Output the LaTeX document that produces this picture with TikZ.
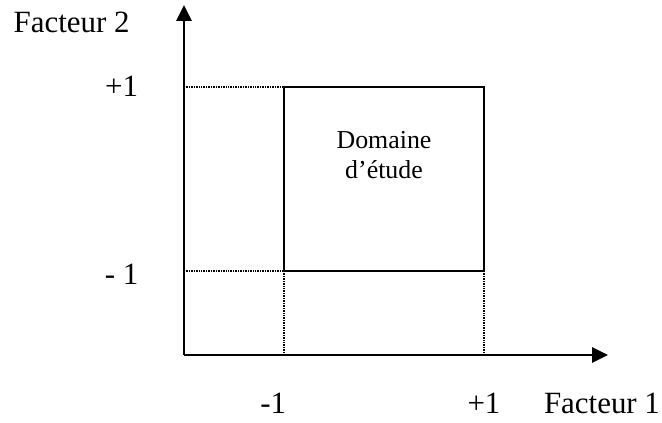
\documentclass[tikz,border=0pt]{standalone}
\usepackage{fontspec}
\setmainfont{Liberation Serif}
\usetikzlibrary{arrows.meta}

\begin{document}
\begin{tikzpicture}[font=\fontsize{22}{26}\selectfont,
  axis/.style={line width=1.9pt,-{Triangle[length=4mm,width=3.8mm]}},
  guide/.style={line width=1pt,dash pattern=on 0.6pt off 0.6pt},
  zone/.style={line width=1.6pt}]
  \useasboundingbox (-4.6,-1.7) rectangle (11.95,8.875);

  % Axes
  \coordinate (O) at (0,0);
  \coordinate (ytip) at (0,8.75);
  \coordinate (xtip) at (10.6,0);
  \draw[axis] (O) -- (ytip);
  \draw[axis] (O) -- (xtip);

  % Levels on the axes
  \coordinate (yp) at (0,6.7);
  \coordinate (ym) at (0,2.1);
  \coordinate (xm) at (2.5,0);
  \coordinate (xp) at (7.5,0);

  % Domain corners
  \coordinate (bl) at (2.5,2.1);
  \coordinate (br) at (7.5,2.1);
  \coordinate (tl) at (2.5,6.7);
  \coordinate (tr) at (7.5,6.7);

  % Guides
  \draw[guide] (yp) -- (tl);
  \draw[guide] (ym) -- (bl);
  \draw[guide] (bl) -- (xm);
  \draw[guide] (br) -- (xp);

  % Domain
  \draw[zone] (bl) rectangle (tr);
  \node[align=center,font=\fontsize{18.4}{21.3}\selectfont] (dom) at (5,5.0) {Domaine\\d’étude};

  % Labels
  \node (f2) at (-2.81,8.31) {Facteur 2};
  \node (f1) at (10.45,-1.2) {Facteur 1};
  \node (lyp) at (-1.56,6.72) {+1};
  \node (lym) at (-1.56,2.03) {- 1};
  \node (lxm) at (2.23,-1.2) {-1};
  \node (lxp) at (7.5,-1.2) {+1};
\end{tikzpicture}
\end{document}
